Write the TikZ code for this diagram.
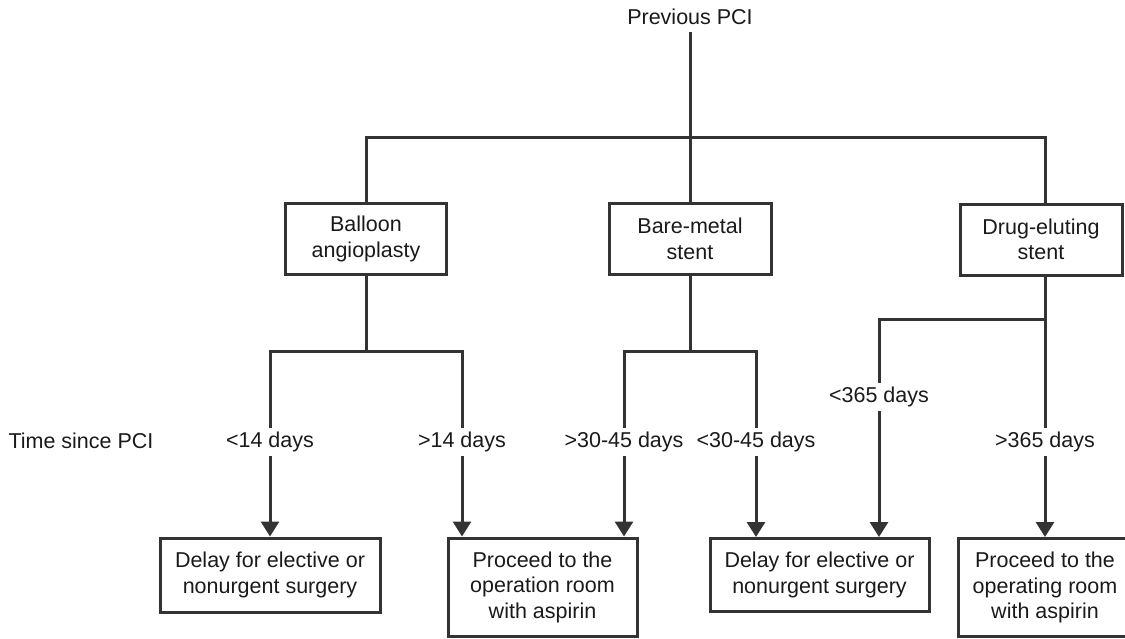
\documentclass[tikz,border=0pt]{standalone}
\usepackage{fontspec}
\setmainfont{Liberation Sans}
\usetikzlibrary{arrows.meta}
\definecolor{ln}{HTML}{333333}
\definecolor{tx}{HTML}{1A1A1A}
\begin{document}
\begin{tikzpicture}[x=1pt,y=-1pt,
  every node/.style={font=\fontsize{21.5}{25.5}\selectfont, text=tx},
  box/.style={draw=ln, line width=3pt, align=center, inner sep=0pt},
  lab/.style={inner sep=0pt, minimum height=28pt},
  conn/.style={draw=ln, line width=3pt},
  arr/.style={conn, -{Triangle[width=18pt,length=15pt]}}]
\useasboundingbox (0,0) rectangle (1125,638);
\clip (0,0) rectangle (1125,638);

% top
\node[inner sep=0pt, minimum height=30pt] (top) at (690,17) {Previous PCI};
\coordinate (b0) at (690,137);

% first level boxes
\node[box, minimum width=161pt, minimum height=71pt] (bal) at (366,239) {Balloon\\angioplasty};
\node[box, minimum width=162pt, minimum height=71pt] (bms) at (690,239) {Bare-metal\\stent};
\node[box, minimum width=162pt, minimum height=71pt] (des) at (1041,239.5) {Drug-eluting\\stent};

\draw[conn] (top.south) -- (b0);
\draw[conn] (bal.north) |- (b0) -| ([xshift=4pt]des.north);
\draw[conn] (b0) -- (bms.north);

% branch points
\coordinate (c1) at (366,351);
\coordinate (c2) at (690,351);
\coordinate (c3) at (1045,319);

% labels
\node (tsp) at (81,441) {Time since PCI};
\node[lab] (l1) at (270,442) {<14 days};
\node[lab] (l2) at (462,442) {>14 days};
\node[lab] (l3) at (624,442) {>30-45 days};
\node[lab] (l4) at (756,442) {<30-45 days};
\node[lab] (l5) at (879,397) {<365 days};
\node[lab] (l6) at (1045,442) {>365 days};

% outcome boxes
\node[box, minimum width=220pt, minimum height=74pt] (d1) at (270,575) {Delay for elective or\\nonurgent surgery};
\node[box, minimum width=189pt, minimum height=98pt] (p1) at (542.5,587) {Proceed to the\\operation room\\with aspirin};
\node[box, minimum width=219pt, minimum height=73pt] (d2) at (819.5,575) {Delay for elective or\\nonurgent surgery};
\node[box, minimum width=174pt, minimum height=98pt] (p2) at (1045,587.5) {Proceed to the\\operating room\\with aspirin};

% second level connectors
\draw[conn] (bal.south) -- (c1);
\draw[conn] (l1.north) |- (c1) -| (l2.north);
\draw[conn] (bms.south) -- (c2);
\draw[conn] (l3.north) |- (c2) -| (l4.north);
\draw[conn] ([xshift=4pt]des.south) -- (l6.north);
\draw[conn] (l5.north) |- (c3);

% arrows
\draw[arr] (l1.south) -- (d1.north);
\draw[arr] (l2.south) -- (l2.south |- p1.north);
\draw[arr] (l3.south) -- (l3.south |- p1.north);
\draw[arr] (l4.south) -- (l4.south |- d2.north);
\draw[arr] (l5.south) -- (l5.south |- d2.north);
\draw[arr] (l6.south) -- (p2.north);
\end{tikzpicture}
\end{document}
